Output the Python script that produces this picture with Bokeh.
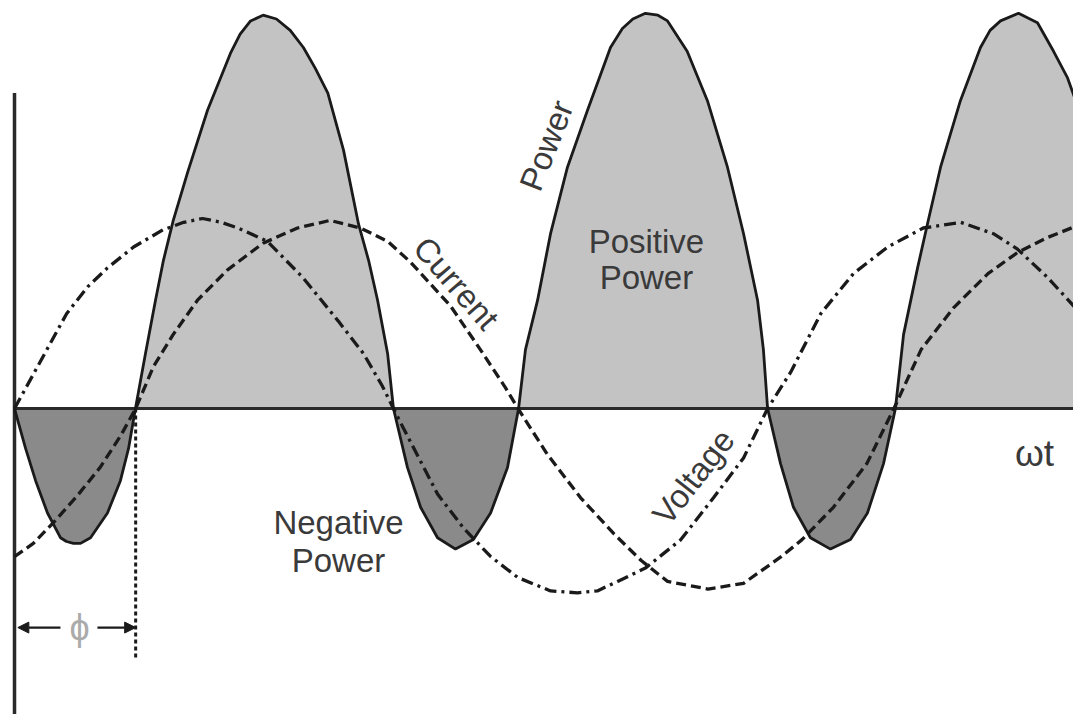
import math
from bokeh.plotting import figure
from bokeh.models import Range1d, Arrow, NormalHead
from bokeh.core.properties import value
from bokeh.embed import file_html
from bokeh.resources import INLINE

# ---- data (x: wt in degrees, y: amplitude, voltage peak = 1) ----
power_deg = [
    0, 5.3, 10.1, 15.8, 22.0, 24.9, 28.2, 31.6, 36.4, 44.5, 50.7, 54.6, 57.9,
    62.7, 67.5, 71.3, 76.0, 82.8, 92.4, 103.4, 108, 113, 119, 125.4, 132, 138.3, 144, 150,
    157.5, 164.7, 169.5, 173.8, 178.6, 181.4,
    188.1, 194.4, 202.5, 211.1, 219.7, 227.9, 236.0, 241.3,
    244.6, 250.4, 256.6, 264.7, 274.3, 285.3, 291, 296, 302, 308, 312.6, 322, 331.7, 341.3,
    349, 355.7, 358.5, 360.5,
    366.7, 372.9, 381.0, 390.6, 400.2, 408.3, 416.0, 421.7,
    425.6, 432.3, 437.0, 443.3, 452.8, 462.4, 467, 472, 480.6, 489.7, 497.4, 504.1, 509.3,
]
power_val = [
    0, -0.21, -0.38, -0.55, -0.68, -0.70, -0.71, -0.71, -0.68, -0.55, -0.38, -0.21, 0,
    0.29, 0.57, 0.78, 0.99, 1.24, 1.57, 1.87, 1.97, 2.04, 2.07, 2.05, 1.99, 1.90, 1.79, 1.66,
    1.36, 0.97, 0.78, 0.57, 0.29, 0,
    -0.31, -0.52, -0.68, -0.74, -0.69, -0.55, -0.31, 0,
    0.31, 0.57, 0.92, 1.27, 1.57, 1.90, 2.00, 2.05, 2.08, 2.07, 2.04, 1.88, 1.62, 1.27,
    0.92, 0.57, 0.31, 0,
    -0.29, -0.52, -0.68, -0.74, -0.69, -0.55, -0.29, 0,
    0.39, 0.74, 0.97, 1.27, 1.62, 1.90, 1.99, 2.04, 2.08, 2.03, 1.88, 1.74, 1.58,
]

volt_deg = [0, 9, 17, 25, 35, 44.5, 57, 71, 81, 90, 99, 107, 121, 138, 155, 167, 176, 181.4,
            186, 202.5, 215, 228, 241, 256.6, 269.5, 279, 288.7, 302, 319, 334.6, 349, 360.5,
            371.5, 386, 401.6, 418, 435, 453, 468.6, 480, 494.5, 510.3]
volt_val = [0, 0.18, 0.34, 0.50, 0.64, 0.74, 0.85, 0.94, 0.98, 1.00, 0.98, 0.95, 0.88, 0.69,
            0.46, 0.29, 0.12, 0, -0.10, -0.45, -0.63, -0.78, -0.89, -0.96, -0.97, -0.96, -0.91,
            -0.84, -0.69, -0.47, -0.26, 0, 0.19, 0.50, 0.71, 0.85, 0.95, 0.98, 0.92, 0.84,
            0.69, 0.50]

curr_deg = [0, 9, 18.7, 30, 41, 51, 58, 66.5, 76, 87.6, 102, 119, 135.5, 151, 165.6, 178.6,
            189.6, 208.7, 223, 235, 241, 255, 271, 287, 300, 312.6, 332, 349, 367, 377, 392,
            408, 421, 434, 449.5, 466, 480, 494.5, 510.5]
curr_val = [-0.78, -0.71, -0.60, -0.46, -0.31, -0.14, 0, 0.22, 0.39, 0.57, 0.73, 0.87, 0.95,
            0.99, 0.95, 0.88, 0.77, 0.54, 0.31, 0.11, 0, -0.24, -0.47, -0.66, -0.80, -0.91,
            -0.95, -0.92, -0.78, -0.69, -0.52, -0.29, 0, 0.31, 0.53, 0.71, 0.82, 0.90, 0.97]

phi_deg = 58.0          # phase shift between voltage and current
axis_top = 1.66
axis_bottom = -1.7
axis_right = 512

# ---- figure ----
W, H = 1073, 714
p = figure(width=W, height=H, output_backend="svg", toolbar_location=None,
           x_range=Range1d(-6.702, 506.94), y_range=Range1d(-1.6105, 2.1474),
           x_axis_location=None, y_axis_location=None, min_border=0)
p.grid.visible = False
p.outline_line_color = None
p.background_fill_color = "white"
p.border_fill_color = "white"

pos = [max(v, 0) for v in power_val]
neg = [min(v, 0) for v in power_val]
zeros = [0] * len(power_val)
p.varea(x=power_deg, y1=zeros, y2=pos, fill_color="#c3c3c3")
p.varea(x=power_deg, y1=zeros, y2=neg, fill_color="#8a8a8a")

ink = "#1a1a1a"
# axes
p.line([0, axis_right], [0, 0], line_color="#2a2a2a", line_width=3)
p.line([0, 0], [axis_top, axis_bottom], line_color="#2a2a2a", line_width=3.5)

# voltage & current
p.line(volt_deg, volt_val, line_color=ink, line_width=3.3, line_dash="12 5 3 5")
p.line(curr_deg, curr_val, line_color=ink, line_width=3.3, line_dash="10 5")
# power
p.line(power_deg, power_val, line_color=ink, line_width=2.8)

# phi annotation
p.line([phi_deg, phi_deg], [0, -1.31], line_color=ink, line_width=3, line_dash="4 3")
for xs, xe in [(22.0, 1.6), (39.7, phi_deg)]:
    p.add_layout(Arrow(x_start=xs, y_start=-1.153, x_end=xe, y_end=-1.153,
                       line_color=ink, line_width=2.4,
                       end=NormalHead(size=11, fill_color=ink, line_color=ink)))

font = value("Liberation Sans")
txt = "#3a3a3a"
p.text(x=[31.1], y=[-1.153], text=["ϕ"], text_font=font, text_font_size="36px",
       text_color="#ababab", text_align="center", text_baseline="middle")

p.text(x=[302.5, 302.5, 155.1, 155.1], y=[0.88, 0.69, -0.60, -0.80],
       text=["Positive", "Power", "Negative", "Power"], text_font=font,
       text_font_size="33px", text_color=txt, text_align="center", text_baseline="middle")
p.text(x=[488.3], y=[-0.237], text=["ωt"], text_font=font, text_font_size="37px",
       text_color=txt, text_align="center", text_baseline="middle")

labels = [("Power", 254.6, 1.384, 68.6), ("Current", 211.5, 0.66, -49.0),
          ("Voltage", 325.0, -0.36, 52.0)]
for t, x, y, a in labels:
    p.text(x=[x], y=[y], text=[t], angle=math.radians(a), text_font=font,
           text_font_size="33px", text_color=txt, text_align="center",
           text_baseline="middle")

open("out.html", "w").write(file_html(p, INLINE))
